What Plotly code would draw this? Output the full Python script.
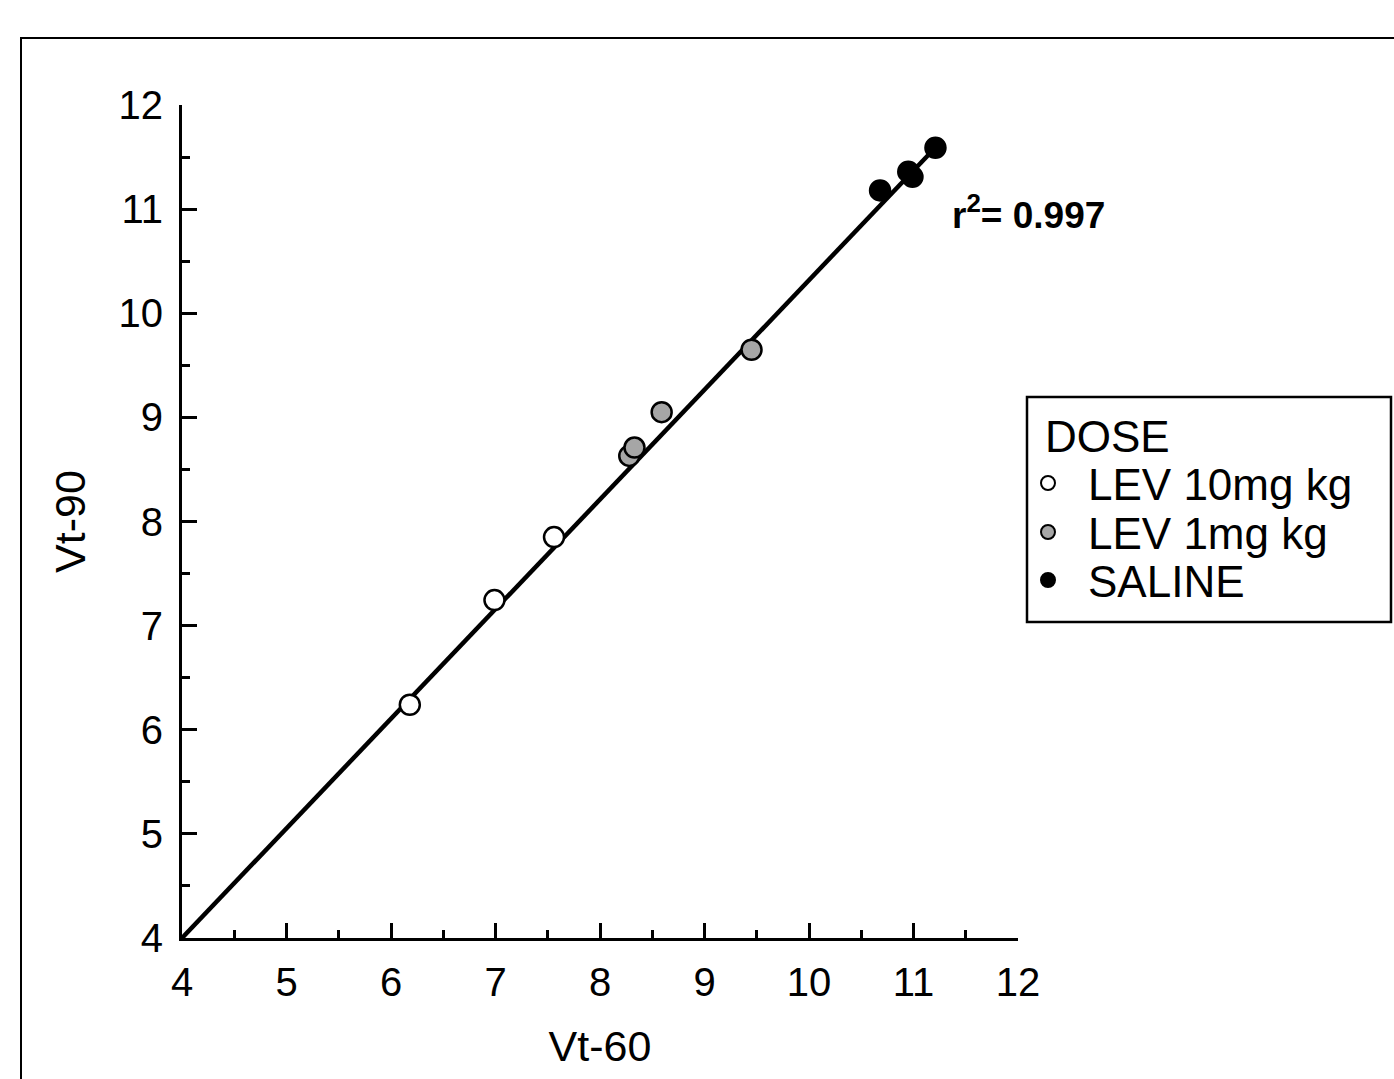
import plotly.graph_objects as go
import numpy as np

# Data
lev10_x = [6.18, 6.99, 7.56]
lev10_y = [6.24, 7.245, 7.85]
lev1_x = [8.28, 8.33, 8.59, 9.45]
lev1_y = [8.63, 8.71, 9.05, 9.65]
saline_x = [10.68, 10.95, 10.99, 11.21]
saline_y = [11.18, 11.36, 11.31, 11.59]
fit_slope = 1.053
fit_intercept = -0.212
r2_text = "r<sup>2</sup>= 0.997"
tick_vals = [4, 5, 6, 7, 8, 9, 10, 11, 12]
legend_title = "DOSE"
series_names = ["LEV 10mg kg", "LEV 1mg kg", "SALINE"]
series_colors = ["white", "#a6a6a6", "black"]

W, H = 1394, 1079
L, R, T, B = 182, 1018, 105, 938

all_x = lev10_x + lev1_x + saline_x
fx = np.array([4.0, max(all_x)])
fy = fit_intercept + fit_slope * fx

FONT = "Liberation Sans, Arial, sans-serif"


def px2x(p):
    return (p - L) / (R - L)


def px2y(p):
    return (B - p) / (B - T)


fig = go.Figure()
fig.add_trace(go.Scatter(x=fx, y=fy, mode="lines", line=dict(color="black", width=4.5),
                         showlegend=False, hoverinfo="skip"))
series = [(lev10_x, lev10_y), (lev1_x, lev1_y), (saline_x, saline_y)]
for (sx, sy), name, col in zip(series, series_names, series_colors):
    fig.add_trace(go.Scatter(x=sx, y=sy, mode="markers", name=name, showlegend=False,
                             marker=dict(color=col, size=20, line=dict(color="black", width=2.5))))

axis_common = dict(range=[4, 12], tickvals=tick_vals, ticks="inside", ticklen=15, tickwidth=3,
                   tickcolor="black", showline=True, linecolor="black", linewidth=3,
                   showgrid=False, zeroline=False, tickfont=dict(family=FONT, size=40, color="black"),
                   minor=dict(dtick=0.5, ticks="inside", ticklen=8, tickwidth=3, tickcolor="black",
                              showgrid=False))

shapes = [
    dict(type="rect", xref="paper", yref="paper", x0=px2x(21), x1=px2x(1400),
         y0=px2y(1090), y1=px2y(38), line=dict(color="black", width=2)),
    dict(type="rect", xref="paper", yref="paper", x0=px2x(1027), x1=px2x(1391),
         y0=px2y(622), y1=px2y(397), line=dict(color="black", width=2.5)),
]
annotations = [
    dict(text="<b>" + r2_text + "</b>", xref="paper", yref="paper", x=px2x(950), y=px2y(213),
         xanchor="left", yanchor="middle", showarrow=False,
         font=dict(family=FONT, size=37, color="black")),
    dict(text=legend_title, xref="paper", yref="paper", x=px2x(1043), y=px2y(436),
         xanchor="left", yanchor="middle", showarrow=False,
         font=dict(family=FONT, size=44, color="black")),
]
row_y = [484, 533, 581]
for name, col, ry in zip(series_names, series_colors, row_y):
    annotations.append(dict(text=name, xref="paper", yref="paper", x=px2x(1086), y=px2y(ry),
                            xanchor="left", yanchor="middle", showarrow=False,
                            font=dict(family=FONT, size=44, color="black")))
    shapes.append(dict(type="circle", xref="paper", yref="paper", xsizemode="pixel",
                       ysizemode="pixel", xanchor=px2x(1048), yanchor=px2y(ry - 1),
                       x0=-7, x1=7, y0=-7, y1=7, fillcolor=col,
                       line=dict(color="black", width=2)))

fig.update_layout(
    width=W, height=H,
    margin=dict(l=L, r=W - R, t=T, b=H - B),
    paper_bgcolor="white", plot_bgcolor="white",
    font=dict(family=FONT, color="black"),
    showlegend=False,
    xaxis=dict(title=dict(text="Vt-60", font=dict(family=FONT, size=43), standoff=28),
               ticklabelstandoff=7, **axis_common),
    yaxis=dict(title=dict(text="Vt-90", font=dict(family=FONT, size=43), standoff=20),
               ticklabelstandoff=8, **axis_common),
    shapes=shapes,
    annotations=annotations,
)

fig.write_html("out.html")
